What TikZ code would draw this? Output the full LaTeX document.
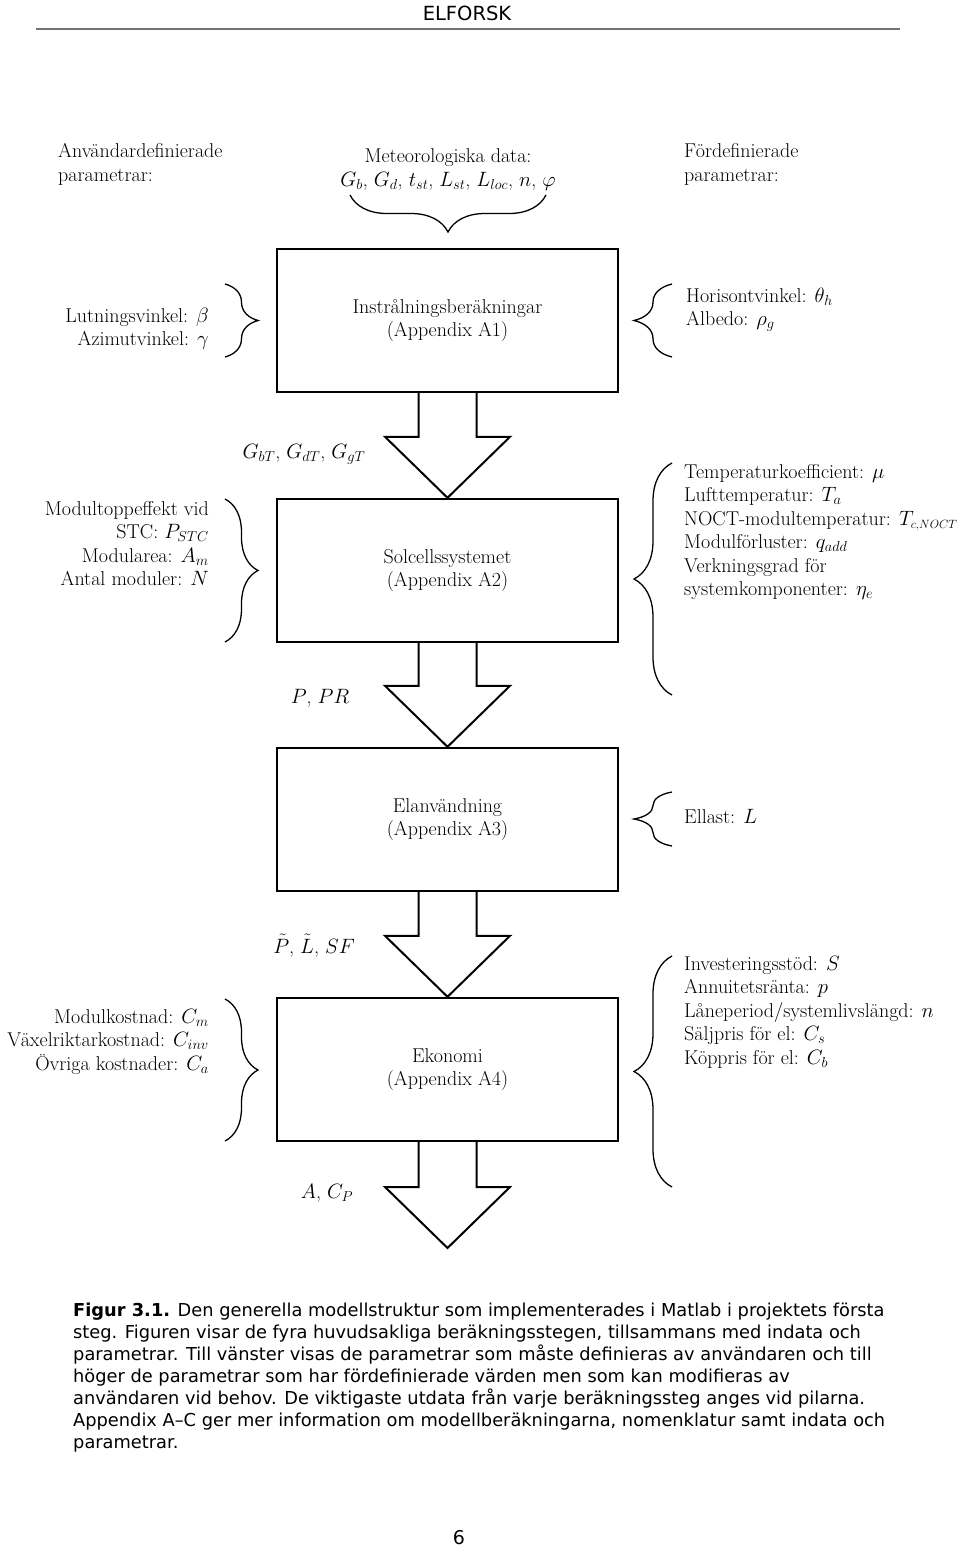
\documentclass[tikz,border=0pt]{standalone}
\usepackage{fontspec}
\usetikzlibrary{calc,decorations.pathreplacing}
\newfontfamily\capfont{DejaVu Sans}
\newcommand{\dfont}{\fontsize{20}{23.5}\selectfont}
\newcommand{\smallsub}[1]{\mbox{\fontsize{12}{12}\selectfont$#1$}}
\tikzset{
  box/.style={draw,line width=2.4pt,minimum width=341pt,minimum height=143pt,inner sep=0pt,align=center,font=\dfont},
  ltext/.style={anchor=base east,align=right,inner sep=0pt,font=\dfont},
  rtext/.style={anchor=base west,align=left,inner sep=0pt,font=\dfont},
  ctext/.style={anchor=base,align=center,inner sep=0pt,font=\dfont},
  lbrc/.style={decorate,decoration={brace,amplitude=33pt},line width=1.3pt},
  rbrc/.style={decorate,decoration={brace,amplitude=38pt},line width=1.3pt},
  barrow/.style={draw,fill=white,line width=2pt,line join=miter}
}
\newcommand{\blockarrow}[2]{%
  \draw[barrow] ($(#1.south)+(-29,0)$) -- ($(#2)+(-29,-61)$) -- ($(#2)+(-62.5,-61)$) -- (#2)
    -- ($(#2)+(62.5,-61)$) -- ($(#2)+(29,-61)$) -- ($(#1.south)+(29,0)$);}
\begin{document}
\begin{tikzpicture}[x=1pt,y=-1pt]
\useasboundingbox (0,0) rectangle (960,1550);
\fill[white] (0,0) rectangle (960,1550);

% header
\node[font=\capfont\fontsize{19.5}{22}\selectfont,inner sep=0pt] (hdr) at (467,13) {ELFORSK};
\draw[line width=2.5pt,color=black!55] (36,29) coordinate (hl) -- (900,29) coordinate (hr);

% top texts (base anchor = baseline of last line)
\node[rtext] (user) at (58,181) {Användardefinierade\\parametrar:};
\node[ctext] (meteo) at (448,186) {Meteorologiska data:\\$G_b$, $G_d$, $t_{st}$, $L_{st}$, $L_{loc}$, $n$, $\varphi$};
\node[rtext] (pre) at (684,181) {Fördefinierade\\parametrar:};
\coordinate (mbr) at (546,195);
\coordinate (mbl) at (350,195);
\draw[decorate,decoration={brace,amplitude=37pt},line width=1.3pt] (mbr) -- (mbl);

% boxes
\node[box] (b1) at (447.5,320.5) {Instrålningsberäkningar\\(Appendix A1)};
\node[box] (b2) at (447.5,570.5) {Solcellssystemet\\(Appendix A2)};
\node[box] (b3) at (447.5,819.5) {Elanvändning\\(Appendix A3)};
\node[box] (b4) at (447.5,1069.5) {Ekonomi\\(Appendix A4)};
\coordinate (end) at (447.5,1248);

% arrows
\blockarrow{b1}{b2.north}
\blockarrow{b2}{b3.north}
\blockarrow{b3}{b4.north}
\blockarrow{b4}{end}

% arrow labels
\node[ctext] (g) at (304,458) {$G_{bT}$, $G_{dT}$, $G_{gT}$};
\node[ctext] (p) at (320,703) {$P$, $PR$};
\node[ctext] (pl) at (314,953) {$\tilde{P}$, $\tilde{L}$, $SF$};
\node[ctext] (a) at (327,1198) {$A$, $C_P$};

% box 1 params
\node[ltext] (l1) at (209,345.5) {Lutningsvinkel: $\beta$\\Azimutvinkel: $\gamma$};
\draw[lbrc] (225,284) coordinate (l1t) -- (225,357) coordinate (l1b);
\node[rtext] (r1) at (686,325.5) {Horisontvinkel: $\theta_h$\\Albedo: $\rho_g$};
\draw[rbrc] (672,357) coordinate (r1b) -- (672,284) coordinate (r1t);

% box 2 params
\node[ltext] (l2) at (209,585.5) {Modultoppeffekt vid\\STC: $P_{STC}$\\Modularea: $A_m$\\Antal moduler: $N$};
\draw[lbrc] (225,499) coordinate (l2t) -- (225,642) coordinate (l2b);
\node[rtext] (r2) at (684,595.5) {Temperaturkoefficient: $\mu$\\Lufttemperatur: $T_a$\\NOCT-modultemperatur: $T_{\smallsub{c{,}NOCT}}$\\Modulförluster: $q_{add}$\\Verkningsgrad för\\systemkomponenter: $\eta_e$};
\draw[rbrc] (672,695) coordinate (r2b) -- (672,463) coordinate (r2t);

% box 3 params
\node[rtext] (r3) at (684,823) {Ellast: $L$};
\draw[rbrc] (672,846) coordinate (r3b) -- (672,792) coordinate (r3t);

% box 4 params
\node[ltext] (l4) at (209,1070) {Modulkostnad: $C_m$\\Växelriktarkostnad: $C_{inv}$\\Övriga kostnader: $C_a$};
\draw[lbrc] (225,999) coordinate (l4t) -- (225,1141) coordinate (l4b);
\node[rtext] (r4) at (684,1064) {Investeringsstöd: $S$\\Annuitetsränta: $p$\\Låneperiod/systemlivslängd: $n$\\Säljpris för el: $C_s$\\Köppris för el: $C_b$};
\draw[rbrc] (672,1187) coordinate (r4b) -- (672,956) coordinate (r4t);

% caption
\node[anchor=base west,align=left,inner sep=0pt,font=\capfont\fontsize{17.8}{22}\selectfont] (cap) at (73,1448)
{\textbf{Figur 3.1.} Den generella modellstruktur som implementerades i Matlab i projektets första\\
steg. Figuren visar de fyra huvudsakliga beräkningsstegen, tillsammans med indata och\\
parametrar. Till vänster visas de parametrar som måste definieras av användaren och till\\
höger de parametrar som har fördefinierade värden men som kan modifieras av\\
användaren vid behov. De viktigaste utdata från varje beräkningssteg anges vid pilarna.\\
Appendix A–C ger mer information om modellberäkningarna, nomenklatur samt indata och\\
parametrar.};

\node[font=\capfont\fontsize{19}{22}\selectfont,inner sep=0pt] (pg) at (459,1538) {6};
\end{tikzpicture}
\end{document}
